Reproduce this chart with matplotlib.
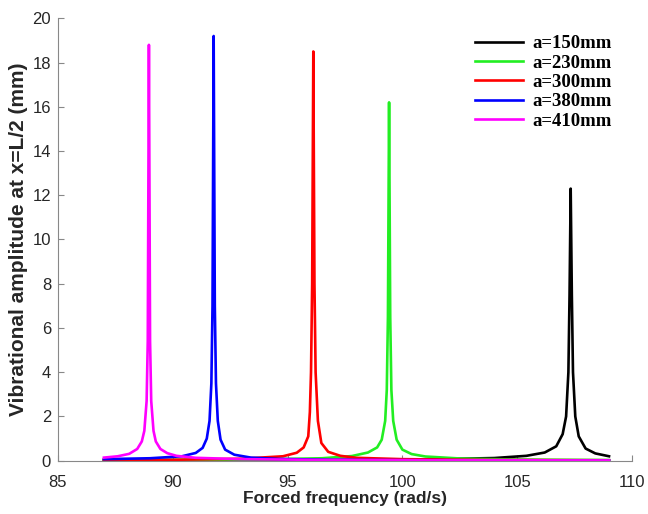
import matplotlib.pyplot as plt

# forced frequency (rad/s) and amplitude (mm)
freq_150 = [87.0, 92.0, 97.0, 101.0, 104.0, 105.4, 106.2, 106.7, 106.98, 107.13, 107.23, 107.28,
            107.33, 107.38, 107.43, 107.53, 107.68, 107.98, 108.4, 109.0]
amp_150 = [0.02, 0.03, 0.04, 0.06, 0.12, 0.22, 0.37, 0.65, 1.2, 2.0, 4.0, 7.5,
           12.3, 7.5, 4.0, 2.0, 1.1, 0.55, 0.33, 0.2]

freq_230 = [87.0, 91.0, 94.0, 96.5, 97.8, 98.5, 98.9, 99.1, 99.25, 99.32, 99.37,
            99.42, 99.47, 99.52, 99.6, 99.75, 100.0, 100.4, 101.0, 102.5, 105.0, 109.0]
amp_230 = [0.02, 0.04, 0.06, 0.11, 0.21, 0.37, 0.6, 0.95, 1.8, 3.2, 6.5,
           16.2, 6.5, 3.2, 1.8, 0.95, 0.5, 0.3, 0.19, 0.1, 0.05, 0.03]

freq_300 = [87.0, 90.0, 93.0, 94.8, 95.4, 95.7, 95.9, 95.97, 96.02, 96.07,
            96.12, 96.17, 96.22, 96.32, 96.47, 96.77, 97.3, 98.0, 100.0, 104.0, 109.0]
amp_300 = [0.03, 0.04, 0.09, 0.2, 0.36, 0.6, 1.1, 2.2, 4.0, 8.0,
           18.5, 8.0, 4.0, 1.8, 0.8, 0.4, 0.22, 0.13, 0.07, 0.03, 0.02]

freq_380 = [87.0, 89.0, 90.4, 91.0, 91.3, 91.48, 91.6, 91.68, 91.73, 91.78,
            91.83, 91.88, 91.96, 92.08, 92.28, 92.68, 93.4, 94.6, 97.0, 101.0, 105.0, 109.0]
amp_380 = [0.07, 0.11, 0.2, 0.35, 0.58, 1.0, 1.8, 3.5, 7.0, 19.2,
           7.0, 3.5, 1.8, 0.95, 0.5, 0.27, 0.14, 0.08, 0.04, 0.02, 0.02, 0.01]

freq_410 = [87.0, 87.6, 88.1, 88.45, 88.65, 88.76, 88.86, 88.91, 88.96, 89.01,
            89.06, 89.16, 89.26, 89.46, 89.76, 90.16, 91.0, 93.0, 96.0, 100.0, 105.0, 109.0]
amp_410 = [0.14, 0.2, 0.31, 0.53, 0.87, 1.35, 2.7, 5.4, 18.8, 5.4,
           2.7, 1.35, 0.87, 0.53, 0.34, 0.22, 0.13, 0.07, 0.04, 0.025, 0.018, 0.013]

labels = ['a=150mm', 'a=230mm', 'a=300mm', 'a=380mm', 'a=410mm']
colors = ['#000000', '#22ee22', '#ff0000', '#0000ff', '#ff00ff']
series = [(freq_150, amp_150), (freq_230, amp_230), (freq_300, amp_300),
          (freq_380, amp_380), (freq_410, amp_410)]

plt.rcParams['font.family'] = 'Liberation Sans'

fig = plt.figure(figsize=(6.48, 5.14), dpi=100)
ax = fig.add_axes([0.0895, 0.1037, 0.8858, 0.8607])

for (f, a), lab, c in zip(series, labels, colors):
    ax.plot(f, a, color=c, linewidth=1.9, label=lab)

ax.set_xlim(85, 110)
ax.set_ylim(0, 20)
ax.set_xticks([85, 90, 95, 100, 105, 110])
ax.set_yticks(range(0, 21, 2))

for side in ['top', 'right']:
    ax.spines[side].set_visible(False)
for side in ['left', 'bottom']:
    ax.spines[side].set_color('#888888')
ax.tick_params(direction='in', length=4, color='#888888', labelcolor='#262626', labelsize=12)
ax.tick_params(axis='x', pad=10)
ax.tick_params(axis='y', pad=5)

ax.set_xlabel('Forced frequency (rad/s)', fontsize=12.5, fontweight='bold', color='#262626',
              labelpad=1)
ax.set_ylabel('Vibrational amplitude at x=L/2 (mm)', fontsize=15, fontweight='bold',
              color='#262626', labelpad=3)

ax.legend(loc='upper right', frameon=False, handlelength=2.6,
          prop={'family': 'Liberation Serif', 'weight': 'bold', 'size': 13.5},
          labelspacing=0.12, handletextpad=0.5, bbox_to_anchor=(0.995, 1.0))

fig.savefig('out.png', dpi=100)
